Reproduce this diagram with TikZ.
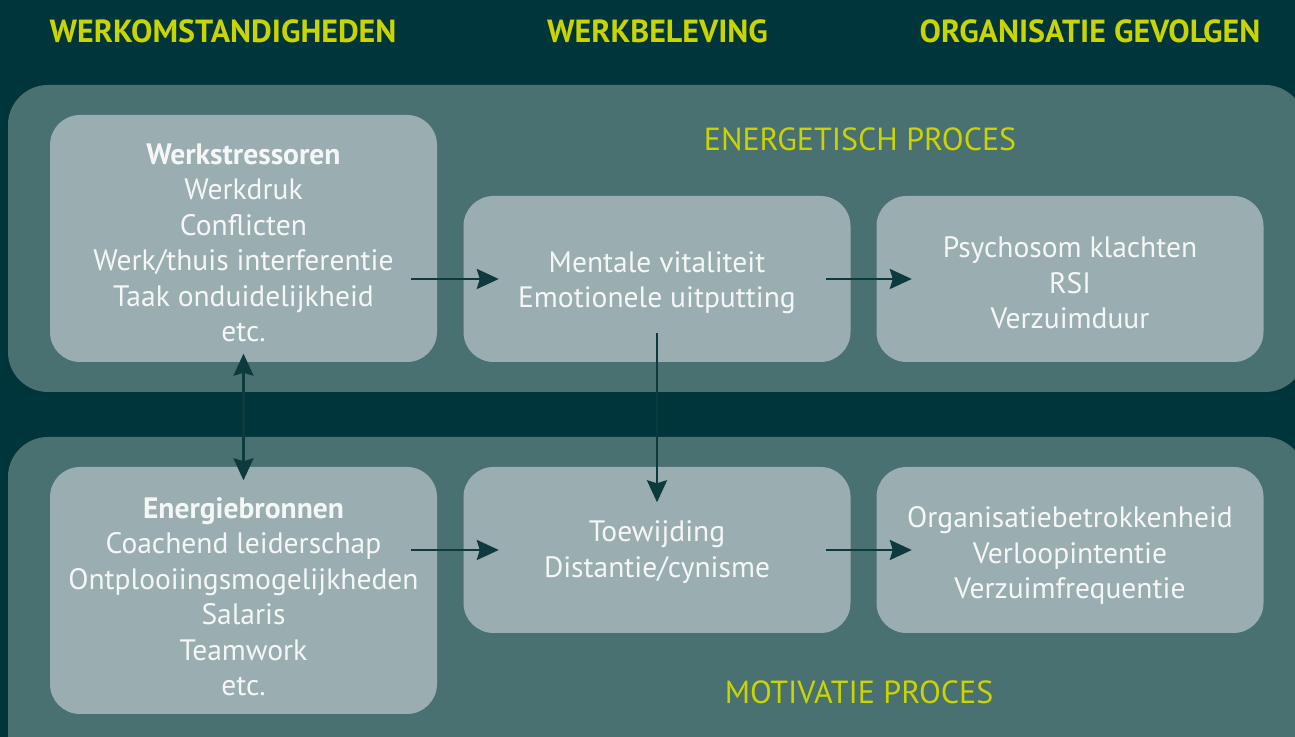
\documentclass[tikz,border=0pt]{standalone}
\usepackage{fontspec}
\setmainfont{PT Sans}
\usetikzlibrary{arrows.meta}

\definecolor{bgteal}{HTML}{00363B}
\definecolor{panelteal}{HTML}{4A7171}
\definecolor{boxgrey}{HTML}{9AADB1}
\definecolor{headlime}{HTML}{C9D400}
\definecolor{arrowteal}{HTML}{0D3A3D}
\definecolor{boxtext}{HTML}{F5F7F7}

\begin{document}
\begin{tikzpicture}[
  >={Stealth[length=0.22cm,width=0.2cm,inset=0.03cm]},
  box/.style={fill=boxgrey, rounded corners=0.3cm, minimum width=3.87cm,
    minimum height=1.66cm, inner sep=0pt},
  tallbox/.style={box, minimum height=2.47cm},
  txt/.style={text=boxtext, align=center, inner sep=0pt,
    font=\fontsize{8.4}{10.1}\selectfont},
  head/.style={text=headlime, font=\bfseries\fontsize{9.1}{11}\selectfont},
  proc/.style={text=headlime, font=\fontsize{9.1}{11}\selectfont},
  link/.style={draw=arrowteal, line width=0.75pt, ->},
  panel/.style={fill=panelteal, rounded corners=0.4cm}
]
\clip (0,0) rectangle (12.95,-7.37);
\fill[bgteal] (0,0) rectangle (12.95,-7.37);

% the two process bands
\fill[panel] (0.08,-0.85) rectangle (13.05,-3.92);
\fill[panel] (0.08,-4.37) rectangle (13.05,-7.90);

% column titles
\node[head] (tOmst) at (2.23,-0.31) {WERKOMSTANDIGHEDEN};
\node[head] (tBelev) at (6.575,-0.31) {WERKBELEVING};
\node[head] (tGevolg) at (10.90,-0.31) {ORGANISATIE GEVOLGEN};

\node[proc] (pEnerg) at (8.60,-1.39) {ENERGETISCH PROCES};
\node[proc] (pMotiv) at (8.59,-6.92) {MOTIVATIE PROCES};

% boxes
\node[tallbox] (stress) at (2.435,-2.385) {};
\node[box] (mental) at (6.57,-2.79) {};
\node[box] (klacht) at (10.70,-2.79) {};
\node[tallbox] (bronnen) at (2.435,-5.905) {};
\node[box] (toewij) at (6.57,-5.50) {};
\node[box] (betrok) at (10.70,-5.50) {};

% box texts
\node[txt] (stressTxt) at ([yshift=-0.045cm]stress.center) {{\bfseries Werkstressoren}\\Werkdruk\\Conflicten\\Werk/thuis interferentie\\Taak onduidelijkheid\\etc.};
\node[txt] (mentalTxt) at ([yshift=-0.035cm]mental.center) {Mentale vitaliteit\\Emotionele uitputting};
\node[txt] (klachtTxt) at ([yshift=-0.04cm]klacht.center) {Psychosom klachten\\RSI\\Verzuimduur};
\node[txt] (bronnenTxt) at ([yshift=-0.06cm]bronnen.center) {{\bfseries Energiebronnen}\\Coachend leiderschap\\Ontplooiingsmogelijkheden\\Salaris\\Teamwork\\etc.};
\node[txt] (toewijTxt) at ([yshift=-0.02cm]toewij.center) {Toewijding\\Distantie/cynisme};
\node[txt] (betrokTxt) at ([yshift=-0.055cm]betrok.center) {Organisatiebetrokkenheid\\Verloopintentie\\Verzuimfrequentie};

% arrows
\draw[link] ([xshift=-0.27cm]stress.east |- mental.center) -- ([xshift=0.36cm]mental.west);
\draw[link] ([xshift=-0.25cm]mental.east) -- ([xshift=0.36cm]klacht.west);
\draw[link] ([xshift=-0.27cm]bronnen.east |- toewij.center) -- ([xshift=0.36cm]toewij.west);
\draw[link] ([xshift=-0.25cm]toewij.east) -- ([xshift=0.36cm]betrok.west);

\draw[link, <->] ([yshift=0.09cm]stress.south) -- ([yshift=-0.14cm]bronnen.north);
\draw[link] ([yshift=0.30cm]mental.south) -- ([yshift=-0.36cm]toewij.north);

\end{tikzpicture}
\end{document}
